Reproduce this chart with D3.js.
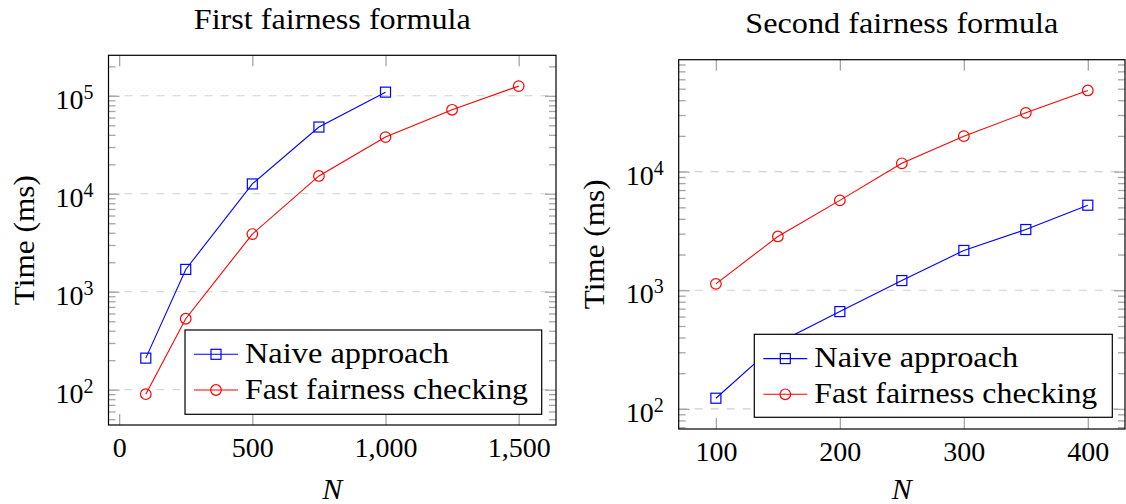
<!DOCTYPE html>
<html>
<head>
<meta charset="utf-8">
<script src="https://cdn.jsdelivr.net/npm/d3@7"></script>
<style>
  html, body { margin: 0; padding: 0; background: #fff; }
  svg { display: block; }
  svg text { font-family: "Liberation Serif", serif; fill: #000; }
</style>
</head>
<body>
<svg id="chart" width="1126" height="504"></svg>
<script>
// data
const nFirstNaive = [100, 250, 500, 750, 1000];
const timeFirstNaive = [210, 1690, 12600, 48000, 109000];
const nFirstFast = [100, 250, 500, 750, 1000, 1250, 1500];
const timeFirstFast = [90, 530, 3880, 15200, 37900, 72000, 125600];

const nSecond = [100, 150, 200, 250, 300, 350, 400];
const timeSecondNaive = [123, 360, 661, 1207, 2165, 3250, 5210];
const timeSecondFast = [1132, 2840, 5720, 11750, 19900, 31300, 48300];

const ticksFirstX = [0, 500, 1000, 1500];
const ticksSecondX = [100, 200, 300, 400];
const legendLabels = ["Naive approach", "Fast fairness checking"];
const titles = ["First fairness formula", "Second fairness formula"];

const svg = d3.select("#chart");
const tickColor = "#a6a6a6";

// pgfplots-like enlarge limits (10%)
function enlarge(lo, hi){
    const d = (hi - lo) * 0.1;
    return [lo - d, hi + d];
}

function panel(opt){
    const g = svg.append("g");
    const [x0, x1] = opt.xr, [y0, y1] = opt.yr;
    const allN = opt.series.flatMap(s => s.n);
    const allT = opt.series.flatMap(s => s.t);

    const x = d3.scaleLinear()
        .domain(enlarge(d3.min(allN), d3.max(allN)))
        .range([x0, x1]);
    const ly = enlarge(Math.log10(d3.min(allT)), Math.log10(d3.max(allT)));
    const y = d3.scaleLog()
        .domain([10 ** ly[0], 10 ** ly[1]])
        .range([y1, y0]);

    const majors = d3.range(Math.ceil(ly[0]), Math.floor(ly[1]) + 1).map(e => 10 ** e);
    const minors = [];
    for (let e = Math.floor(ly[0]); e <= Math.ceil(ly[1]); e++)
        for (let m = 2; m <= 9; m++) {
            const v = m * 10 ** e;
            if (v > y.domain()[0] && v < y.domain()[1]) minors.push(v);
        }

    // grid
    g.append("g").selectAll("line").data(majors).join("line")
        .attr("x1", x0).attr("x2", x1)
        .attr("y1", d => y(d)).attr("y2", d => y(d))
        .attr("stroke", "#cfcfcf").attr("stroke-width", 1.1)
        .attr("stroke-dasharray", "8,8");

    const styleTicks = a => a.attr("font-family", null).attr("font-size", null)
        .call(s => s.select(".domain").remove())
        .call(s => s.selectAll(".tick line").attr("stroke", tickColor).attr("stroke-width", 1.3));

    // x ticks bottom with labels
    g.append("g").attr("transform", `translate(0,${y1})`)
        .call(d3.axisBottom(x).tickValues(opt.xticks).tickSize(-11).tickPadding(12)
            .tickFormat(d3.format(",")))
        .call(styleTicks)
        .call(s => s.selectAll("text").attr("fill", "#000").style("font-size", "28px"));
    g.append("g").attr("transform", `translate(0,${y0})`)
        .call(d3.axisTop(x).tickValues(opt.xticks).tickSize(-11).tickFormat(""))
        .call(styleTicks);

    // y ticks left / right
    const yl = g.append("g").attr("transform", `translate(${x0},0)`)
        .call(d3.axisLeft(y).tickValues(majors).tickSize(-11).tickFormat(""))
        .call(styleTicks);
    g.append("g").attr("transform", `translate(${x0},0)`)
        .call(d3.axisLeft(y).tickValues(minors).tickSize(-7).tickFormat(""))
        .call(styleTicks);
    g.append("g").attr("transform", `translate(${x1},0)`)
        .call(d3.axisRight(y).tickValues(majors).tickSize(-11).tickFormat(""))
        .call(styleTicks);
    g.append("g").attr("transform", `translate(${x1},0)`)
        .call(d3.axisRight(y).tickValues(minors).tickSize(-7).tickFormat(""))
        .call(styleTicks);

    yl.selectAll(".tick").each(function(d){
        d3.select(this).append("text")
            .attr("x", -25).attr("y", 12.5)
            .attr("text-anchor", "end")
            .style("font-size", "28px")
            .text("10");
        d3.select(this).append("text")
            .attr("x", -25).attr("y", 2.5)
            .attr("text-anchor", "start")
            .style("font-size", "20px")
            .text(Math.round(Math.log10(d)));
    });

    // frame
    g.append("rect")
        .attr("x", x0).attr("y", y0)
        .attr("width", x1 - x0).attr("height", y1 - y0)
        .attr("fill", "none").attr("stroke", "#000").attr("stroke-width", 1.2);

    // series
    const line = d3.line().x(d => x(d[0])).y(d => y(d[1]));
    opt.series.forEach(s => {
        const pts = s.n.map((n, i) => [n, s.t[i]]);
        g.append("path").datum(pts)
            .attr("d", line).attr("fill", "none")
            .attr("stroke", s.color).attr("stroke-width", 1.1);
        drawMarks(g, pts.map(p => [x(p[0]), y(p[1])]), s);
    });

    // title and labels
    g.append("text")
        .attr("x", (x0 + x1) / 2).attr("y", opt.titleY)
        .attr("text-anchor", "middle")
        .attr("textLength", opt.titleW).attr("lengthAdjust", "spacingAndGlyphs")
        .style("font-size", "29px").text(opt.title);
    g.append("text")
        .attr("x", (x0 + x1) / 2).attr("y", 499)
        .attr("text-anchor", "middle")
        .style("font-size", "30px").style("font-style", "italic").text("N");
    g.append("text")
        .attr("transform", `translate(${opt.ylabX},${(y0 + y1) / 2}) rotate(-90)`)
        .attr("text-anchor", "middle")
        .attr("textLength", 130).attr("lengthAdjust", "spacingAndGlyphs")
        .style("font-size", "30px").text("Time (ms)");

    // legend
    const [lx, ly0, lw, lh] = opt.legend;
    const lg = g.append("g").attr("transform", `translate(${lx},${ly0})`);
    lg.append("rect").attr("width", lw).attr("height", lh)
        .attr("fill", "#fff").attr("stroke", "#000").attr("stroke-width", 1.2);
    opt.series.forEach((s, i) => {
        const cy = 24.3 + i * 35.7;
        lg.append("line").attr("x1", 9).attr("x2", 53)
            .attr("y1", cy).attr("y2", cy)
            .attr("stroke", s.color).attr("stroke-width", 1.1);
        drawMarks(lg, [[31, cy]], s);
        lg.append("text").attr("x", 60).attr("y", cy + 8.8)
            .attr("textLength", i === 0 ? 204 : 283).attr("lengthAdjust", "spacingAndGlyphs")
            .style("font-size", "30px").text(legendLabels[i]);
    });
}

function drawMarks(g, pts, s){
    if (s.mark === "square") {
        g.append("g").selectAll("rect").data(pts).join("rect")
            .attr("x", d => d[0] - 5).attr("y", d => d[1] - 5)
            .attr("width", 10).attr("height", 10)
            .attr("fill", "none").attr("stroke", s.color).attr("stroke-width", 1.2);
    } else {
        g.append("g").selectAll("circle").data(pts).join("circle")
            .attr("cx", d => d[0]).attr("cy", d => d[1]).attr("r", 5.3)
            .attr("fill", "none").attr("stroke", s.color).attr("stroke-width", 1.2);
    }
}

panel({
    xr: [108.5, 556], yr: [55.3, 425],
    xticks: ticksFirstX,
    title: titles[0], titleY: 29.3, titleW: 277,
    ylabX: 33.5,
    legend: [185, 330, 356.7, 84.3],
    series: [
        {n: nFirstNaive, t: timeFirstNaive, color: "#0000ff", mark: "square"},
        {n: nFirstFast, t: timeFirstFast, color: "#ff0000", mark: "circle"}
    ]
});

panel({
    xr: [678.7, 1125], yr: [59.7, 429],
    xticks: ticksSecondX,
    title: titles[1], titleY: 33.3, titleW: 313,
    ylabX: 603.5,
    legend: [754.3, 334.3, 358, 83],
    series: [
        {n: nSecond, t: timeSecondNaive, color: "#0000ff", mark: "square"},
        {n: nSecond, t: timeSecondFast, color: "#ff0000", mark: "circle"}
    ]
});
</script>
</body>
</html>
